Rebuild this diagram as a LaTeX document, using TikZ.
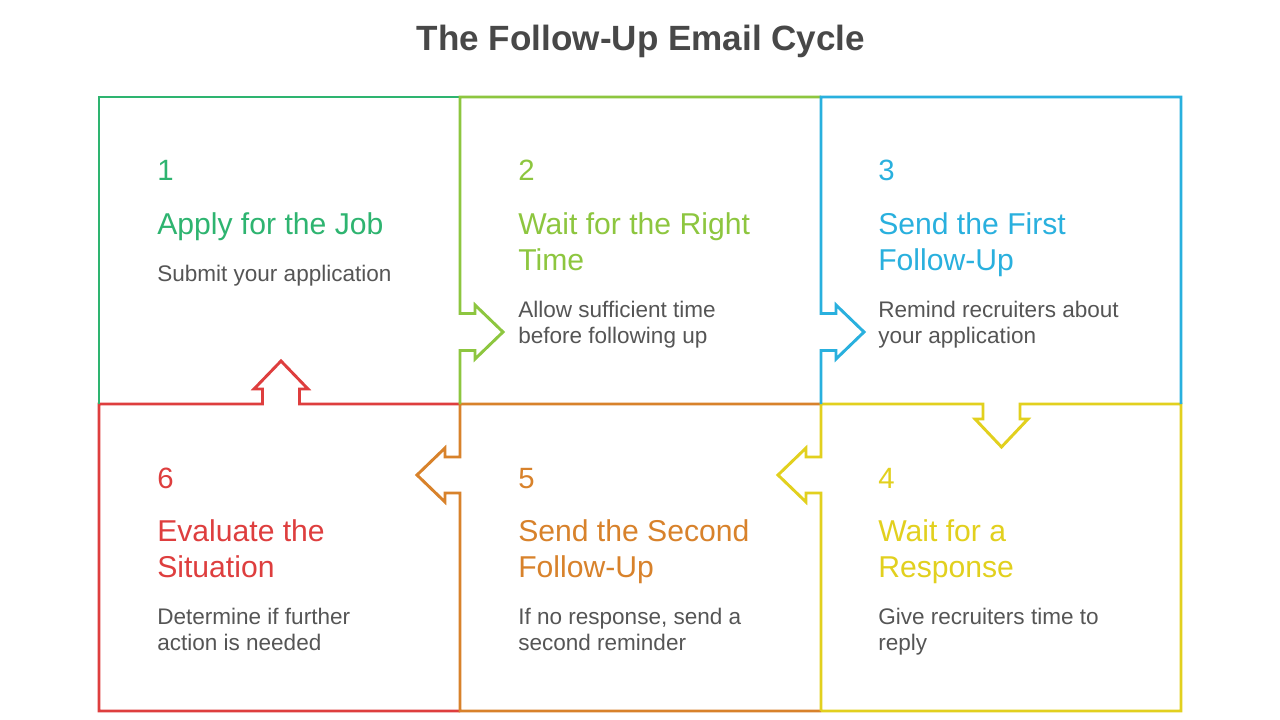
\documentclass[tikz,border=0pt]{standalone}
\usepackage{fontspec}
\setmainfont{Liberation Sans}
\definecolor{cgreen}{RGB}{46,180,112}
\definecolor{clime}{RGB}{141,198,63}
\definecolor{cblue}{RGB}{41,176,222}
\definecolor{cyellow}{RGB}{226,208,30}
\definecolor{corange}{RGB}{216,130,43}
\definecolor{cred}{RGB}{222,62,62}
\definecolor{ctext}{RGB}{85,85,85}
\definecolor{ctitle}{RGB}{72,72,72}
\tikzset{
  edge/.style={line width=2.2pt, line join=miter},
  numtxt/.style={anchor=base west, inner sep=0pt, font=\fontsize{22pt}{26pt}\selectfont},
  headtxt/.style={anchor=base west, inner sep=0pt, font=\fontsize{22.6pt}{27pt}\selectfont},
  bodytxt/.style={anchor=base west, inner sep=0pt, text=ctext, font=\fontsize{16.9pt}{20pt}\selectfont},
}
\begin{document}
\begin{tikzpicture}[x=0.75pt,y=-0.75pt]
\useasboundingbox[fill=white] (0,0) rectangle (1280,720);

% title
\node[anchor=base, inner sep=0pt, text=ctitle, font=\fontsize{26.3pt}{30pt}\selectfont\bfseries] (title) at (641,51) {The Follow-Up Email Cycle};

% corners / named coordinates
\coordinate (a1) at (99,97);
\coordinate (a2) at (460,97);
\coordinate (a3) at (821,97);
\coordinate (a4) at (1181,97);
\coordinate (b1) at (99,404);
\coordinate (b2) at (460,404);
\coordinate (b3) at (821,404);
\coordinate (b4) at (1181,404);
\coordinate (c1) at (99,711);
\coordinate (c2) at (460,711);
\coordinate (c3) at (821,711);
\coordinate (c4) at (1181,711);

% box 6 (red) with up arrow into box 1
\draw[edge, cred] (b2) -- (299.5,404) -- (299.5,389) -- (308,389) -- (281,361) -- (254,389) -- (262.5,389) -- (262.5,404) -- (b1) -- (c1) -- (c2);

% box 5 (orange) with left arrow into box 6
\draw[edge, corange] (b3) -- (b2) -- (460,457) -- (445,457) -- (445,448) -- (417,475) -- (445,502) -- (445,493) -- (460,493) -- (c2) -- (c3);

% box 4 (yellow) with left arrow into box 5 and down arrow from box 3
\draw[edge, cyellow] (c3) -- (821,493) -- (806,493) -- (806,502) -- (778,475) -- (806,448) -- (806,457) -- (821,457) -- (b3)
  -- (983,404) -- (983,419) -- (975,419) -- (1001.5,447) -- (1028,419) -- (1020,419) -- (1020,404) -- (b4) -- (c4) -- (c3);

% box 1 (green)
\draw[edge, cgreen] (a2) -- (a1) -- (b1);

% box 2 (lime) with right arrow from box 1
\draw[edge, clime] (a3) -- (a2) -- (460,313.5) -- (475,313.5) -- (475,305) -- (503,332) -- (475,359) -- (475,350.5) -- (460,350.5) -- (b2);

% box 3 (blue) with right arrow from box 2
\draw[edge, cblue] (b4) -- (a4) -- (a3) -- (821,313.5) -- (836,313.5) -- (836,305) -- (864,332) -- (836,359) -- (836,350.5) -- (821,350.5) -- (b3);

% box 1 text
\node[numtxt, text=cgreen] (n1) at (157,181) {1};
\node[headtxt, text=cgreen] (h1) at (157,234) {Apply for the Job};
\node[bodytxt] (d1) at (157,281) {Submit your application};

% box 2 text
\node[numtxt, text=clime] (n2) at (518,181) {2};
\node[headtxt, text=clime] (h2a) at (518,234) {Wait for the Right};
\node[headtxt, text=clime] (h2b) at (518,270) {Time};
\node[bodytxt] (d2a) at (518,317) {Allow sufficient time};
\node[bodytxt] (d2b) at (518,343) {before following up};

% box 3 text
\node[numtxt, text=cblue] (n3) at (878,181) {3};
\node[headtxt, text=cblue] (h3a) at (878,234) {Send the First};
\node[headtxt, text=cblue] (h3b) at (878,270) {Follow-Up};
\node[bodytxt] (d3a) at (878,317) {Remind recruiters about};
\node[bodytxt] (d3b) at (878,343) {your application};

% box 6 text
\node[numtxt, text=cred] (n6) at (157,488) {6};
\node[headtxt, text=cred] (h6a) at (157,541) {Evaluate the};
\node[headtxt, text=cred] (h6b) at (157,577) {Situation};
\node[bodytxt] (d6a) at (157,624) {Determine if further};
\node[bodytxt] (d6b) at (157,650) {action is needed};

% box 5 text
\node[numtxt, text=corange] (n5) at (518,488) {5};
\node[headtxt, text=corange] (h5a) at (518,541) {Send the Second};
\node[headtxt, text=corange] (h5b) at (518,577) {Follow-Up};
\node[bodytxt] (d5a) at (518,624) {If no response, send a};
\node[bodytxt] (d5b) at (518,650) {second reminder};

% box 4 text
\node[numtxt, text=cyellow] (n4) at (878,488) {4};
\node[headtxt, text=cyellow] (h4a) at (878,541) {Wait for a};
\node[headtxt, text=cyellow] (h4b) at (878,577) {Response};
\node[bodytxt] (d4a) at (878,624) {Give recruiters time to};
\node[bodytxt] (d4b) at (878,650) {reply};
\end{tikzpicture}
\end{document}
